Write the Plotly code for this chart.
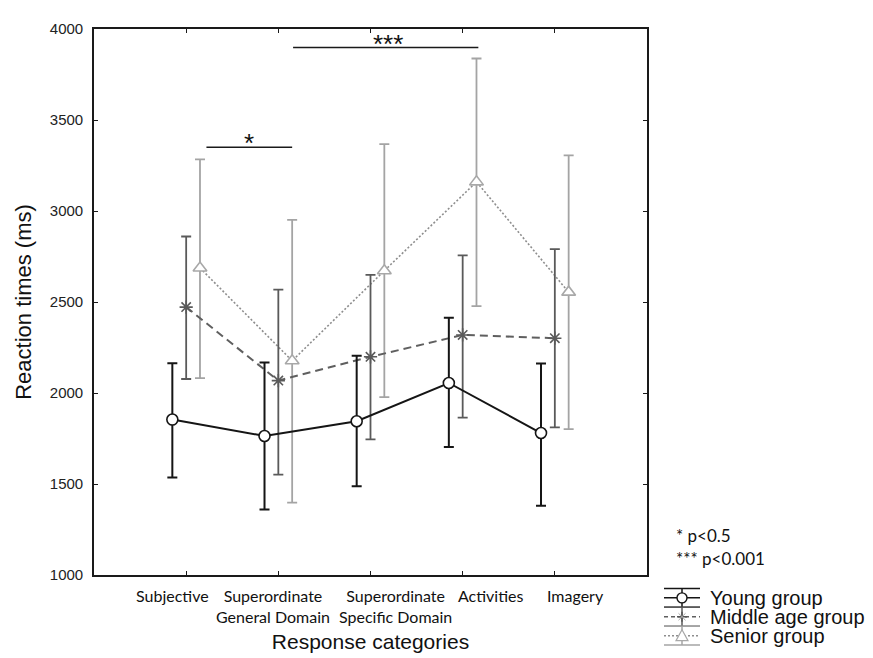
import plotly.graph_objects as go

# ---------------- data ----------------
categories = ["Subjective", "Superordinate<br>General Domain", "Superordinate<br>Specific Domain",
              "Activities", "Imagery"]
groups = ["Young group", "Middle age group", "Senior group"]

young_mean = [1854, 1764, 1845, 2055, 1780]
young_upper = [2164, 2168, 2204, 2414, 2162]
young_lower = [1536, 1360, 1488, 1703, 1381]

middle_mean = [2472, 2068, 2199, 2319, 2301]
middle_upper = [2860, 2568, 2649, 2756, 2791]
middle_lower = [2077, 1552, 1745, 1865, 1811]

senior_mean = [2687, 2177, 2672, 3160, 2554]
senior_upper = [3284, 2951, 3367, 3838, 3306]
senior_lower = [2082, 1398, 1977, 2477, 1802]

sig_labels = ["*", "***"]
sig_notes = ["* p<0.5", "*** p<0.001"]
y_ticks = [1000, 1500, 2000, 2500, 3000, 3500, 4000]

# ---------------- styling ----------------
W, H = 873, 658
L, R, T, B = 86, 234, 18, 91
PW, PH = W - L - R, H - T - B

means = [young_mean, middle_mean, senior_mean]
uppers = [young_upper, middle_upper, senior_upper]
lowers = [young_lower, middle_lower, senior_lower]
offsets = [-0.15, 0.0, 0.15]
err_colors = ["#151515", "#5a5a5a", "#a4a4a4"]
line_colors = ["#151515", "#5f5f5f", "#8e8e8e"]
line_dash = ["solid", "8px,5px", "2px,2px"]
line_width = [2, 2, 1.6]
marker_symbol = ["circle", "asterisk-open", "triangle-up"]
marker_size = [11, 11, 12]
marker_fill = ["white", "#5a5a5a", "white"]
marker_line = ["#151515", "#5a5a5a", "#a8a8a8"]
label_shift = [-0.153, -0.06, 0.27, 0.31, 0.22]

idx = list(range(1, len(categories) + 1))

fig = go.Figure()
draw_order = [2, 1, 0]
for g in draw_order:
    xs = [i + offsets[g] for i in idx]
    ep = [u - m for u, m in zip(uppers[g], means[g])]
    em = [m - l for m, l in zip(means[g], lowers[g])]
    fig.add_trace(go.Scatter(
        x=xs, y=means[g], name=groups[g], mode="lines+markers",
        line=dict(color=line_colors[g], width=line_width[g], dash=line_dash[g]),
        marker=dict(symbol=marker_symbol[g], size=marker_size[g], color=marker_fill[g],
                    line=dict(color=marker_line[g], width=1.6)),
        error_y=dict(type="data", symmetric=False, array=ep, arrayminus=em,
                     color=err_colors[g], thickness=2 if g == 0 else 1.8, width=5),
        showlegend=False,
    ))

axis_common = dict(showline=True, linecolor="#1a1a1a", linewidth=1.6, mirror="ticks",
                   ticks="inside", ticklen=4, tickwidth=1.4, tickcolor="#1a1a1a",
                   showgrid=False, zeroline=False)

fig.update_layout(
    width=W, height=H,
    margin=dict(l=L, r=R, t=T, b=B),
    paper_bgcolor="white", plot_bgcolor="white",
    xaxis=dict(range=[0, 6], tickvals=idx, showticklabels=False,
               title=dict(text="Response categories", standoff=58,
                          font=dict(family="Liberation Sans, Arial", size=21, color="#111")),
               **axis_common),
    yaxis=dict(range=[1000, 4000], tickvals=y_ticks, ticklabelstandoff=6,
               tickfont=dict(family="Liberation Sans, Arial", size=15, color="#222"),
               title=dict(text="Reaction times (ms)", standoff=12,
                          font=dict(family="Liberation Sans, Arial", size=22, color="#111")),
               **axis_common),
    showlegend=False,
)

# category labels
for i, (c, s) in enumerate(zip(categories, label_shift)):
    fig.add_annotation(x=idx[i] + s, y=-0.016, xref="x", yref="paper", text=c,
                       showarrow=False, xanchor="center", yanchor="top", align="center",
                       font=dict(family="Lato", size=16, color="#111"))

# significance brackets
brackets = [(1.22, 2.15, 3350), (2.16, 4.17, 3898)]
for (x0, x1, yb), lab in zip(brackets, sig_labels):
    fig.add_shape(type="line", x0=x0, x1=x1, y0=yb, y1=yb, xref="x", yref="y",
                  line=dict(color="#1a1a1a", width=1.6))
    fig.add_annotation(x=(x0 + x1) / 2 + (0.0 if lab == "*" else 0.02), y=yb, xref="x", yref="y",
                       text=lab, showarrow=False, yanchor="middle", yshift=4,
                       font=dict(family="Liberation Sans, Arial", size=26, color="#111"))


def pp(px, py):
    return (px - L) / PW, (H - B - py) / PH


# significance notes
for k, note in enumerate(sig_notes):
    x, y = pp(666, 527 + 23 * k)
    fig.add_annotation(x=x, y=y, xref="paper", yref="paper", text=note, showarrow=False,
                       xanchor="left", yanchor="middle",
                       font=dict(family="Lato", size=17, color="#111"))

# custom legend
lx0, lx1, lcx = 656, 692, 674
row_y0, row_dy, half = 590, 19, 9.5
for g, name in enumerate(groups):
    cy = row_y0 + row_dy * g
    col = err_colors[g]
    for yy in (cy - half, cy + half):
        a, b = pp(lx0, yy)
        c, d = pp(lx1, yy)
        fig.add_shape(type="line", x0=a, x1=c, y0=b, y1=d, xref="paper", yref="paper",
                      line=dict(color=col, width=1.5))
    a, b = pp(lcx, cy - half)
    c, d = pp(lcx, cy + half)
    fig.add_shape(type="line", x0=a, x1=c, y0=b, y1=d, xref="paper", yref="paper",
                  line=dict(color=col, width=1.5))
    a, b = pp(lx0, cy)
    c, d = pp(lx1, cy)
    fig.add_shape(type="line", x0=a, x1=c, y0=b, y1=d, xref="paper", yref="paper",
                  line=dict(color=line_colors[g], width=1.5,
                            dash="solid" if g == 0 else ("4px,3px" if g == 1 else "2px,2px")))
    if g == 0:
        a, b = pp(lcx - 5, cy + 5)
        c, d = pp(lcx + 5, cy - 5)
        fig.add_shape(type="circle", x0=a, x1=c, y0=b, y1=d, xref="paper", yref="paper",
                      fillcolor="white", line=dict(color=marker_line[g], width=1.4))
    elif g == 1:
        for dx, dy, w, cc in [(5, 0, 1.5, "#555"), (0, 5, 1.5, "#555"),
                              (3.5, 3.5, 1, "#aaa"), (3.5, -3.5, 1, "#aaa")]:
            a, b = pp(lcx - dx, cy - dy)
            c, d = pp(lcx + dx, cy + dy)
            fig.add_shape(type="line", x0=a, x1=c, y0=b, y1=d, xref="paper", yref="paper",
                          line=dict(color=cc, width=w))
    else:
        p1 = pp(lcx - 6, cy + 5)
        p2 = pp(lcx + 6, cy + 5)
        p3 = pp(lcx, cy - 6)
        path = f"M {p1[0]},{p1[1]} L {p2[0]},{p2[1]} L {p3[0]},{p3[1]} Z"
        fig.add_shape(type="path", path=path, xref="paper", yref="paper",
                      fillcolor="white", line=dict(color=marker_line[g], width=1.2))
    tx, ty = pp(700, cy)
    fig.add_annotation(x=tx, y=ty, xref="paper", yref="paper", text=name, showarrow=False,
                       xanchor="left", yanchor="middle",
                       font=dict(family="Liberation Sans, Arial", size=20, color="#111"))

fig.write_html("out.html")
